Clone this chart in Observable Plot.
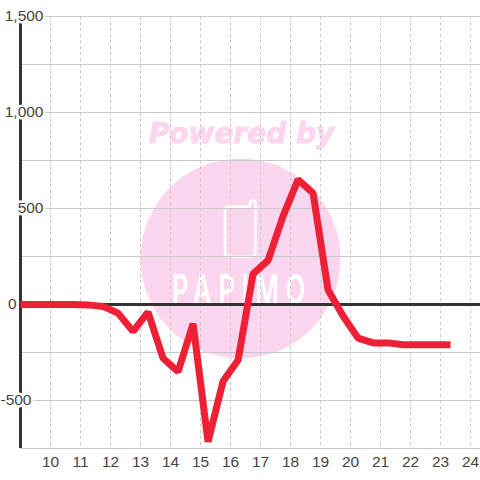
<!DOCTYPE html>
<html><head><meta charset="utf-8">
<script src="https://cdn.jsdelivr.net/npm/d3@7"></script>
<script src="https://cdn.jsdelivr.net/npm/@observablehq/plot@0.6"></script>
<style>html,body{margin:0;padding:0;background:#fff}svg{display:block}</style>
</head><body><div id="c"></div>
<script>
const hours = [9,9.75,10.25,10.75,11.25,11.75,12.25,12.75,13.25,13.75,14.25,14.75,15.25,15.75,16.25,16.75,17.25,17.75,18.25,18.75,19.25,19.75,20.25,20.75,21.25,21.75,22.25,22.75,23.33];
const values = [0,0,0,0,-2,-10,-45,-140,-40,-280,-350,-100,-715,-400,-290,160,230,460,650,580,75,-60,-175,-200,-200,-210,-210,-210,-210];
const xTicks = [10,11,12,13,14,15,16,17,18,19,20,21,22,23,24];
const yGrid = [-750,-500,-250,250,500,750,1000,1250,1500];
const labelsEnd = [500,1000,1500];
const labelsNeg = [-500];
const labelsZero = [0];
const data = hours.map((h,i)=>({h,v:values[i]}));
const pink = "#fcd6ee";
const logo = () => {
  const g = d3.create("svg:g").attr("fill","none").attr("stroke","#fff").attr("stroke-width",2.5);
  g.append("path").attr("d","M229 206.5 H250 V203 Q250 200.5 253 200.5 Q255.5 200.5 255.5 203 V252 Q255.5 256.5 251 256.5 H229 Q225 256.5 225 252 V210.5 Q225 206.5 229 206.5 Z");
  g.append("text").attr("transform","translate(242,304) scale(.62,1)").attr("text-anchor","middle").attr("fill","#fff").attr("stroke","none")
    .attr("font-family","Inter").attr("font-size",41).attr("font-weight",600).attr("letter-spacing",11).text("PAPIMO");
  return g.node();
};
const fmt = d => d3.format(",")(d).replace("\u2212","-");
const labelStyle = {y:d=>d,text:d=>fmt(d),frameAnchor:"left",fontSize:15.5,fill:"#444",stroke:"#fff",strokeWidth:5};
const chart = Plot.plot({
  width:480,height:480,
  marginLeft:20,marginRight:0,marginTop:16,marginBottom:32,
  style:{background:"#fff",fontFamily:"Liberation Sans, sans-serif"},
  x:{domain:[9,24.33],axis:null},
  y:{domain:[-750,1500],axis:null},
  marks:[
    Plot.dot({length:1},{frameAnchor:"top-left",dx:220,dy:242,r:100,fill:pink,stroke:null}),
    Plot.text({length:1},{frameAnchor:"top-left",textAnchor:"middle",lineAnchor:"middle",dx:221,dy:118,text:()=>"Powered by",fill:pink,stroke:pink,strokeWidth:1,fontSize:28,fontWeight:"bold",fontStyle:"italic",fontFamily:"DejaVu Sans"}),
    logo,
    Plot.ruleX(xTicks,{stroke:"#c8c8c8",strokeWidth:1,strokeDasharray:"3,3"}),
    Plot.ruleY(yGrid,{stroke:"#c8c8c8",strokeWidth:1}),
    Plot.ruleY([0],{stroke:"#333",strokeWidth:3}),
    Plot.ruleX([9],{stroke:"#333",strokeWidth:3}),
    Plot.line(data,{x:"h",y:"v",stroke:"#ef2036",strokeWidth:7,strokeLinejoin:"bevel",strokeLinecap:"butt"}),
    Plot.text(labelsEnd,{...labelStyle,textAnchor:"end",dx:23}),
    Plot.text(labelsNeg,{...labelStyle,textAnchor:"end",dx:11}),
    Plot.text(labelsZero,{...labelStyle,textAnchor:"end",dx:-4}),
    Plot.axisX(xTicks,{y:-750,anchor:"bottom",tickSize:0,tickPadding:7,fontSize:15.5,tickFormat:d=>String(d),color:"#444",label:null})
  ]
});
document.getElementById("c").appendChild(chart);
</script></body></html>
